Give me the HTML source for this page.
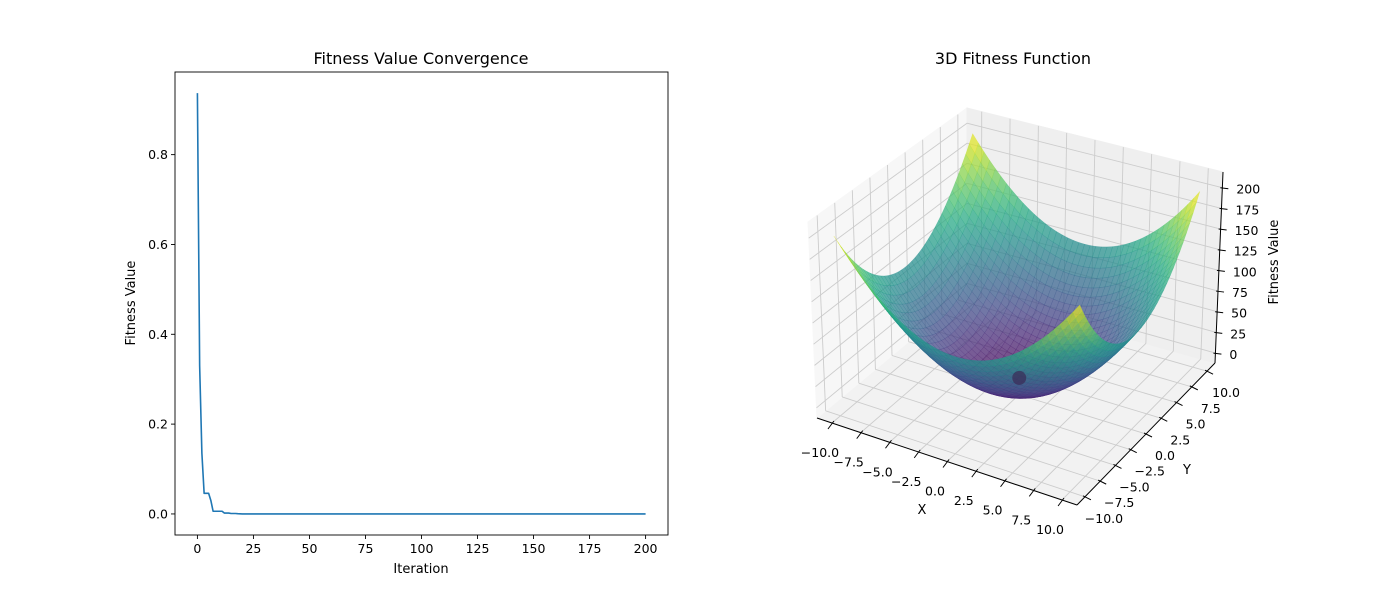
<!DOCTYPE html>
<html><head><meta charset="utf-8"><style>
html,body{margin:0;padding:0;background:#fff;}
svg{display:block;font-family:"DejaVu Sans","Liberation Sans",sans-serif;}
</style></head><body>
<svg id="fig" width="1400" height="600" viewBox="0 0 1400 600">
<rect width="1400" height="600" fill="#fff"/>
<g id="left"></g>
<g id="right"></g>
</svg>
<script>
// ---- Left chart data ----
const iterHead = [0.937,0.33,0.135,0.046,0.046,0.046,0.03,0.006,0.006,0.006,0.006,0.006,0.002,0.002,0.002,0.001,0.001,0.001,0.0005,0.0003];
const fitnessValues = iterHead.concat(new Array(181).fill(0));
const xTicksLeft = [0,25,50,75,100,125,150,175,200];
const yTicksLeft = [0.0,0.2,0.4,0.6,0.8];
// ---- Right chart data ----
const gridVals = [];
for (let i=0;i<=40;i++) gridVals.push(-10+i*0.5);
const xyTicks = [-10,-7.5,-5,-2.5,0,2.5,5,7.5,10];
const zTicks = [0,25,50,75,100,125,150,175,200];
const bestPoint = [0,0,0];

const NS="http://www.w3.org/2000/svg";
function mk(tag,attrs,parent){const e=document.createElementNS(NS,tag);for(const k in attrs)e.setAttribute(k,attrs[k]);parent.appendChild(e);return e;}

// ===== Left chart =====
const L=document.getElementById('left');
const ax={x0:175,x1:668,y0:72,y1:535,xmin:-10,xmax:210,ymin:-0.0469,ymax:0.984};
const sx=v=>ax.x0+(v-ax.xmin)/(ax.xmax-ax.xmin)*(ax.x1-ax.x0);
const sy=v=>ax.y1-(v-ax.ymin)/(ax.ymax-ax.ymin)*(ax.y1-ax.y0);
let d='';
fitnessValues.forEach((v,i)=>{d+=(i?'L':'M')+sx(i).toFixed(2)+','+sy(v).toFixed(2);});
const line=mk('path',{d:d,fill:'none',stroke:'#1f77b4','stroke-width':1.6,'stroke-linejoin':'round'},L);


const frame=mk('rect',{x:ax.x0,y:ax.y0,width:ax.x1-ax.x0,height:ax.y1-ax.y0,fill:'none',stroke:'#000','stroke-width':0.9},L);


xTicksLeft.forEach(t=>{
  const x=sx(t);
  mk('line',{x1:x,x2:x,y1:ax.y1,y2:ax.y1+4,stroke:'#000','stroke-width':0.9},L);
  const tx=mk('text',{x:x,y:ax.y1+18,'font-size':12.5,'text-anchor':'middle'},L);
  tx.textContent=String(t);
  
  
});
yTicksLeft.forEach(t=>{
  const y=sy(t);
  mk('line',{x1:ax.x0-4,x2:ax.x0,y1:y,y2:y,stroke:'#000','stroke-width':0.9},L);
  const tx=mk('text',{x:ax.x0-7,y:y+4.5,'font-size':12.5,'text-anchor':'end'},L);
  tx.textContent=t.toFixed(1);
  
  
});
const t0=mk('text',{x:421,y:64,'font-size':16,'text-anchor':'middle'},L);t0.textContent='Fitness Value Convergence';


const t1=mk('text',{x:421,y:573,'font-size':13,'text-anchor':'middle'},L);t1.textContent='Iteration';


const t2=mk('text',{x:135,y:303,'font-size':13,'text-anchor':'middle',transform:'rotate(-90 135 303)'},L);t2.textContent='Fitness Value';



// ===== Right chart (3D) =====
const R=document.getElementById('right');
const XR=[-11.3,11.3],YR=[-11.3,11.3],ZR=[-12,219];
const C={
 '000':[817,418],'100':[1077,505],'110':[1215,363],'010':[967,293],
 '001':[808,222],'101':[1089,300],'111':[1223,172],'011':[967,108]};
function P(x,y,z){
  const u=(x-XR[0])/(XR[1]-XR[0]),v=(y-YR[0])/(YR[1]-YR[0]),w=(z-ZR[0])/(ZR[1]-ZR[0]);
  let px=0,py=0;
  for(const i of [0,1])for(const j of [0,1])for(const k of [0,1]){
    const wt=(i?u:1-u)*(j?v:1-v)*(k?w:1-w);const c=C[''+i+j+k];px+=wt*c[0];py+=wt*c[1];}
  return [px,py];
}
const pt=a=>a[0].toFixed(2)+','+a[1].toFixed(2);
function poly(pts,attrs,name){const e=mk('polygon',Object.assign({points:pts.map(pt).join(' ')},attrs),R);return e;}
function ln(a,b,attrs){return mk('line',Object.assign({x1:a[0],y1:a[1],x2:b[0],y2:b[1]},attrs),R);}
const x0=XR[0],x1=XR[1],y0=YR[0],y1=YR[1],z0=ZR[0],z1=ZR[1];
poly([P(x0,y0,z0),P(x1,y0,z0),P(x1,y1,z0),P(x0,y1,z0)],{fill:'#f2f2f2',stroke:'#f2f2f2'},'floor-pane');
poly([P(x0,y0,z0),P(x0,y1,z0),P(x0,y1,z1),P(x0,y0,z1)],{fill:'#f7f7f7',stroke:'#f7f7f7'},'left-pane');
poly([P(x0,y1,z0),P(x1,y1,z0),P(x1,y1,z1),P(x0,y1,z1)],{fill:'#efefef',stroke:'#efefef'},'back-pane');
const gs={stroke:'#cccccc','stroke-width':0.9};
xyTicks.forEach(t=>{
  ln(P(t,y0,z0),P(t,y1,z0),gs); ln(P(t,y1,z0),P(t,y1,z1),gs);
  ln(P(x0,t,z0),P(x1,t,z0),gs); ln(P(x0,t,z0),P(x0,t,z1),gs);
});
zTicks.forEach(t=>{ ln(P(x0,y0,t),P(x0,y1,t),gs); ln(P(x0,y1,t),P(x1,y1,t),gs); });
const VIR=['#440154','#482475','#414487','#355f8d','#2a788e','#21918c','#22a884','#44bf70','#7ad151','#bddf26','#fde725'];
function hx(h){return [1,3,5].map(i=>parseInt(h.substr(i,2),16));}
function viridis(t){t=Math.max(0,Math.min(1,t));const f=t*10,i=Math.min(9,Math.floor(f)),r=f-i;const a=hx(VIR[i]),b=hx(VIR[i+1]);return 'rgb('+a.map((c,k)=>Math.round(c+(b[k]-c)*r)).join(',')+')';}
const fz=(x,y)=>x*x+y*y;
const quads=[];
for(let i=0;i<gridVals.length-1;i++)for(let j=0;j<gridVals.length-1;j++){
  const xa=gridVals[i],xb=gridVals[i+1],ya=gridVals[j],yb=gridVals[j+1];
  const zs=[fz(xa,ya),fz(xb,ya),fz(xb,yb),fz(xa,yb)];
  const zm=(zs[0]+zs[1]+zs[2]+zs[3])/4,xm=(xa+xb)/2,ym=(ya+yb)/2;
  const depth=0.433*xm/22.6-0.75*ym/22.6+0.5*0.75*zm/231;
  quads.push({pts:[P(xa,ya,zs[0]),P(xb,ya,zs[1]),P(xb,yb,zs[2]),P(xa,yb,zs[3])],z:zm,depth});
}
quads.sort((a,b)=>a.depth-b.depth);
const sg=mk('g',{},R);


quads.forEach(q=>{const c=viridis(q.z/200);
  mk('polygon',{points:q.pts.map(pt).join(' '),fill:c,stroke:c,'stroke-width':0.4,'fill-opacity':0.72,'stroke-opacity':0.5},sg);});
const bp=P(bestPoint[0],bestPoint[1],bestPoint[2]+8);
const dot=mk('circle',{cx:bp[0],cy:bp[1],r:7,fill:'#3b2a55','fill-opacity':0.7},R);


const as={stroke:'#000','stroke-width':1};
const axl1=ln(P(x0,y0,z0),P(x1,y0,z0),as);


const axl2=ln(P(x1,y0,z0),P(x1,y1,z0),as);


const axl3=ln(P(x1,y1,z0),P(x1,y1,z1),as);


const fmt=t=>(t<0?'\u2212':'')+Math.abs(t).toFixed(1);
xyTicks.forEach(t=>{
  const a=P(t,y0,z0);
  ln([a[0]+2,a[1]-2],[a[0]-4,a[1]+6],as);
  const tx=mk('text',{x:a[0]-12,y:a[1]+34,'font-size':12.5,'text-anchor':'middle'},R);tx.textContent=fmt(t);
  
  
  const b=P(x1,t,z0);
  ln([b[0]-2,b[1]-1],[b[0]+6,b[1]+3],as);
  const ty=mk('text',{x:b[0]+19,y:b[1]+26,'font-size':12.5,'text-anchor':'middle'},R);ty.textContent=fmt(t);
  
  
});
zTicks.forEach(t=>{
  const a=P(x1,y1,t);
  ln([a[0]-2,a[1]],[a[0]+6,a[1]+1],as);
  const tz=mk('text',{x:a[0]+14,y:a[1]+6,'font-size':12.5,'text-anchor':'start'},R);tz.textContent=String(t);
  
  
});
const labs=[['3D Fitness Function',1013,64,16,0,'right-title'],['X',922,514,13,0,'x-axis-title-3d'],['Y',1187,474,13,0,'y-axis-title-3d'],['Fitness Value',1278,262,13,-90,'z-axis-title']];
labs.forEach(l=>{const e=mk('text',{x:l[1],y:l[2],'font-size':l[3],'text-anchor':'middle'},R);
  if(l[4])e.setAttribute('transform','rotate(-90 '+l[1]+' '+l[2]+')');
  e.textContent=l[0];
  
  });
</script>
</body></html>
